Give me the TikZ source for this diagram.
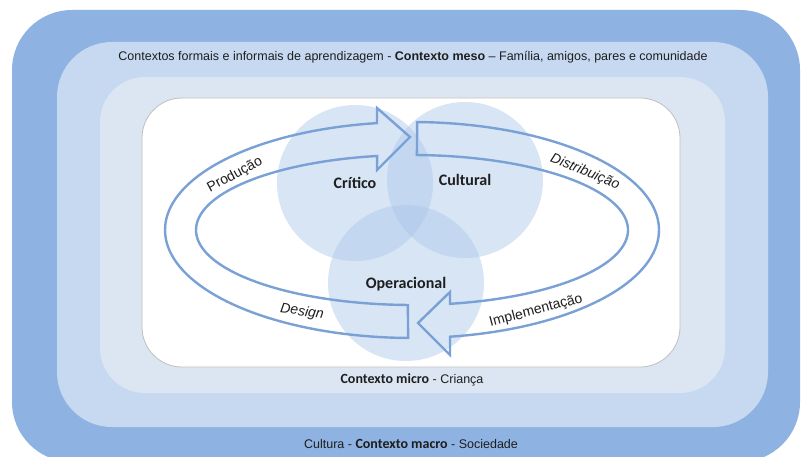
\documentclass[tikz,border=0pt]{standalone}
\usepackage{fontspec}
\setmainfont{Liberation Sans}
\newfontfamily\carl{Carlito}
\definecolor{outerblue}{RGB}{142,179,226}
\definecolor{midblue}{RGB}{198,217,241}
\definecolor{lightblue}{RGB}{220,230,242}
\definecolor{arrowblue}{RGB}{122,161,214}
\definecolor{circblue}{RGB}{170,198,234}
\definecolor{txt}{RGB}{30,30,30}
\begin{document}
\begin{tikzpicture}[x=1pt,y=-1pt,
  layer/.style={rounded corners=#1},
  band/.style={draw=arrowblue, line width=2.4pt, line join=miter},
  circ/.style={circle, minimum size=156pt, inner sep=0pt, fill=circblue, fill opacity=0.45},
  clabel/.style={font=\carl\bfseries\fontsize{16}{18}\selectfont, text=txt},
  alabel/.style={font=\fontsize{14}{16}\selectfont, text=txt, inner sep=0pt},
  ctx/.style={font=\fontsize{12.5}{14}\selectfont, text=txt, inner sep=0pt}]
\useasboundingbox (0,0) rectangle (802,457);
\clip (0,0) rectangle (802,457);
% layers
\fill[outerblue, layer=60pt] (12,10) rectangle (800,462);
\fill[midblue, layer=55pt] (57,42) rectangle (768,427);
\fill[lightblue, layer=45pt] (100,77) rectangle (725,393);
\filldraw[fill=white, draw=black!25, line width=0.8pt, layer=40pt] (142,98) rectangle (680,367);
% circles
\node[circ] (ccrit) at (355,183) {};
\node[circ] (ccult) at (465,180) {};
\node[circ] (coper) at (406,283) {};
% arrows
\draw[band] plot[domain=91.1:260.7, samples=80] ({412+216*cos(\x)},{230+75*sin(\x)})
  -- (377,170) -- (410,137) -- (377,108)
  -- plot[domain=261.85:90.9, samples=80] ({412+247*cos(\x)},{230+108*sin(\x)}) -- cycle;
\draw[band] plot[domain=271.3:439.87, samples=80] ({412+216*cos(\x)},{230+75*sin(\x)})
  -- (450,292) -- (418,323) -- (450,355)
  -- plot[domain=441.15:271.2, samples=80] ({412+247*cos(\x)},{230+108*sin(\x)}) -- cycle;
% circle labels
\node[clabel] (lcrit) at (355,183) {Crítico};
\node[clabel] (lcult) at (465,180) {Cultural};
\node[clabel] (loper) at (406,284) {Operacional};
% arrow labels
\node[alabel, rotate=28] (lprod) at (235,175) {Produção};
\node[alabel, rotate=-22] (ldist) at (585,172) {\itshape Distribuição};
\node[alabel, rotate=-8] (ldes) at (302,312) {\itshape Design};
\node[alabel, rotate=15] (limpl) at (536,311) {Implementação};
% context labels
\node[ctx] (meso) at (413,57) {Contextos formais e informais de aprendizagem - \textbf{Contexto meso} – Família, amigos, pares e comunidade};
\node[ctx] (micro) at (412,380) {{\carl\bfseries\fontsize{14}{16}\selectfont Contexto micro} - Criança};
\node[ctx] (macro) at (411,444) {Cultura - {\carl\bfseries\fontsize{14}{16}\selectfont Contexto macro} - Sociedade};
\end{tikzpicture}
\end{document}
